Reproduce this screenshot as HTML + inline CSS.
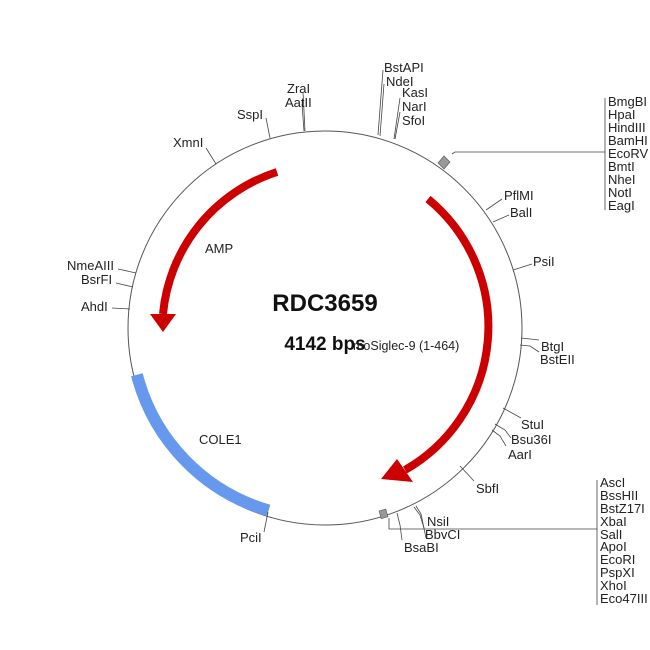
<!DOCTYPE html>
<html><head><meta charset="utf-8"><style>
html,body{margin:0;padding:0;background:#fff;}
svg{display:block;font-family:"Liberation Sans",Arial,sans-serif;}
text{font-size:13px;fill:#222;}
</style></head><body>
<svg width="650" height="650" viewBox="0 0 650 650" xmlns="http://www.w3.org/2000/svg">
<rect width="650" height="650" fill="#fff"/>
<circle cx="325" cy="328" r="197" fill="none" stroke="#555" stroke-width="1"/>
<path d="M 136.9 374.7 A 191 191 0 0 0 268.6 510.5" fill="none" stroke="#6699ee" stroke-width="12"/>
<path d="M 277 172 A 165 165 0 0 0 163 314" fill="none" stroke="#cc0000" stroke-width="8"/>
<polygon points="150,314 176,314 163,332" fill="#cc0000"/>
<path d="M 428 199 A 165 165 0 0 1 405 470" fill="none" stroke="#cc0000" stroke-width="8"/>
<polygon points="413,482 397,459 381,479" fill="#cc0000"/>
<text x="325" y="311" text-anchor="middle" style="font-size:24px;font-weight:bold;fill:#111">RDC3659</text>
<text x="325" y="350" text-anchor="middle" style="font-size:19px;font-weight:bold;fill:#111">4142 bps</text>
<text x="353" y="350" style="font-size:12.5px">moSiglec-9 (1-464)</text>
<text x="205" y="253">AMP</text>
<text x="199" y="444">COLE1</text>
<g stroke="#444" stroke-width="0.8" fill="none">
<line x1="378" y1="135" x2="383" y2="70"/><line x1="380" y1="136" x2="384" y2="84"/>
<line x1="394" y1="139" x2="400" y2="98"/><line x1="395" y1="139" x2="400" y2="112"/>
<line x1="305" y1="131" x2="303" y2="92"/><line x1="304" y1="131" x2="302" y2="104"/>
<line x1="270" y1="138" x2="266" y2="118"/>
<line x1="216" y1="164" x2="206" y2="148"/>
<line x1="136" y1="273" x2="118" y2="269"/><line x1="133" y1="287" x2="116" y2="283"/><line x1="130" y1="309" x2="112" y2="308"/>
<polyline points="452,154 455,152 605,152"/><line x1="605" y1="98" x2="605" y2="210"/>
<line x1="486" y1="210" x2="502" y2="199"/><line x1="493" y1="222" x2="509" y2="215"/>
<line x1="513" y1="270" x2="532" y2="264"/>
<line x1="521" y1="338" x2="539" y2="340"/><polyline points="520,345 530,346 539,352"/>
<line x1="503" y1="408" x2="521" y2="418"/><polyline points="495,424 505,430 511,438"/><polyline points="492,430 500,436 506,446"/>
<line x1="460" y1="466" x2="474" y2="481"/>
<polyline points="389,518 389,529 597,529"/><line x1="597" y1="480" x2="597" y2="605"/>
<polyline points="414,507 420,515 424,528"/><polyline points="416,506 421,514 426,538"/>
<polyline points="397,513 400,525 402,540"/>
<line x1="268" y1="512" x2="264" y2="532"/>
</g>
<g fill="#999" stroke="#555" stroke-width="0.6">
<polygon points="438,163 444,156 450,162 444,169"/>
<rect x="380" y="510" width="7" height="8" transform="rotate(-15 383 514)"/>
</g>
<text x="384" y="72">BstAPI</text><text x="386" y="86">NdeI</text>
<text x="402" y="97">KasI</text><text x="402" y="111">NarI</text><text x="402" y="125">SfoI</text>
<text x="287" y="93">ZraI</text><text x="285" y="107">AatII</text>
<text x="237" y="119">SspI</text>
<text x="173" y="147">XmnI</text>
<text x="67" y="270">NmeAIII</text><text x="81" y="284">BsrFI</text><text x="81" y="311">AhdI</text>
<text x="608" y="106">BmgBI</text><text x="608" y="119">HpaI</text><text x="608" y="132">HindIII</text><text x="608" y="145">BamHI</text><text x="608" y="158">EcoRV</text><text x="608" y="171">BmtI</text><text x="608" y="184">NheI</text><text x="608" y="197">NotI</text><text x="608" y="210">EagI</text>
<text x="504" y="200">PflMI</text><text x="510" y="217">BalI</text>
<text x="533" y="266">PsiI</text>
<text x="541" y="351">BtgI</text><text x="540" y="364">BstEII</text>
<text x="521" y="429">StuI</text><text x="511" y="444">Bsu36I</text><text x="508" y="459">AarI</text>
<text x="476" y="493">SbfI</text>
<text x="600" y="487">AscI</text><text x="600" y="500">BssHII</text><text x="600" y="513">BstZ17I</text><text x="600" y="526">XbaI</text><text x="600" y="539">SalI</text><text x="600" y="551">ApoI</text><text x="600" y="564">EcoRI</text><text x="600" y="577">PspXI</text><text x="600" y="590">XhoI</text><text x="600" y="603">Eco47III</text>
<text x="427" y="526">NsiI</text><text x="425" y="539">BbvCI</text><text x="404" y="552">BsaBI</text>
<text x="240" y="542">PciI</text>
</svg>
</body></html>
